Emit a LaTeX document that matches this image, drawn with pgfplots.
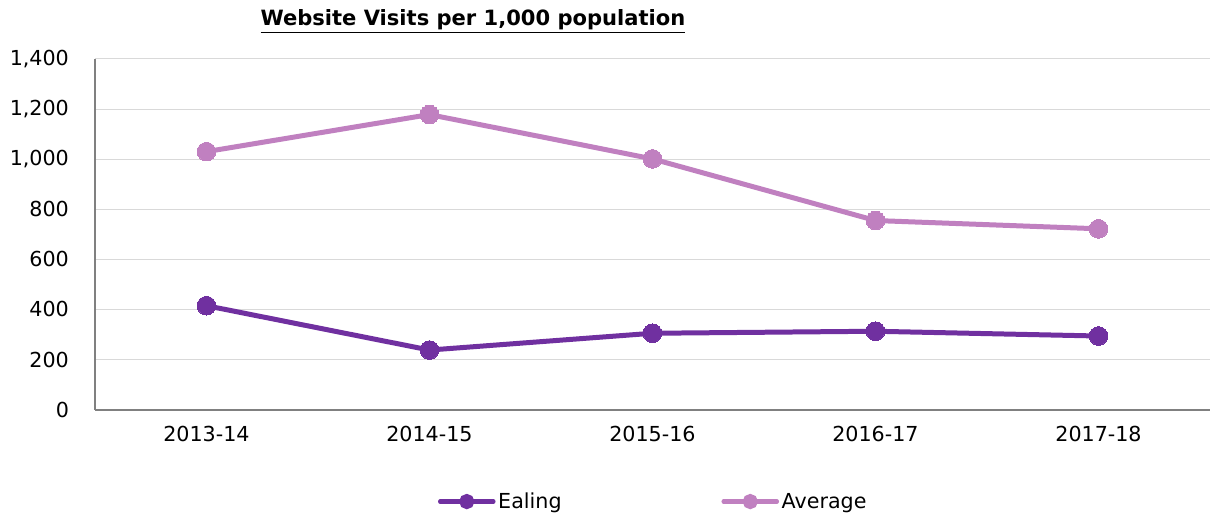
\documentclass[border=0pt]{standalone}
\usepackage{fontspec}
\setmainfont{DejaVu Sans}
\usepackage{pgfplots}
\pgfplotsset{compat=1.18}
\definecolor{ealing}{RGB}{112,48,160}
\definecolor{avg}{RGB}{192,128,192}
\definecolor{gridgray}{RGB}{217,217,217}
\definecolor{axisgray}{RGB}{128,128,128}
\begin{document}
\begin{tikzpicture}
  \begin{axis}[
    name=ax, at={(0pt,0pt)}, anchor=south west,
    scale only axis, width=837pt, height=263.25pt,
    xmin=-0.5, xmax=4.5, ymin=0, ymax=1400,
    xtick={0,1,2,3,4},
    xticklabels={2013-14,2014-15,2015-16,2016-17,2017-18},
    ytick={0,200,...,1400},
    /pgf/number format/assume math mode=true,
    /pgf/number format/1000 sep={,},
    font=\fontsize{15.5}{18}\selectfont,
    tick label style={font=\fontsize{15.5}{18}\selectfont, text=black},
    major tick length=0pt,
    xticklabel style={yshift=-9pt},
    yticklabel style={xshift=-16pt},
    axis x line*=bottom, axis y line*=left,
    axis line style={axisgray, line width=1.5pt, -},
    ymajorgrids, grid style={gridgray, line width=0.75pt},
    title={\underline{\textbf{Website Visits per 1,000 population}}},
    title style={at={(0.339,1.085)}, anchor=center, font=\fontsize{15.8}{18}\selectfont},
    legend style={at={(0.501,-0.262)}, anchor=center, legend columns=2,
      draw=none, fill=none, font=\fontsize{15.5}{18}\selectfont,
      inner xsep=1pt,
      /tikz/every even column/.append style={column sep=118pt}},
    legend image code/.code={
      \draw[#1, line width=3.2pt, line cap=round] (0pt,0pt) -- (40pt,0pt);
      \fill[#1] (20pt,0pt) circle (3.8pt);
    },
  ]
    \addplot[ealing, line width=3.75pt, mark=*, mark size=7pt,
      mark options={solid, fill=ealing, draw=ealing, line width=0pt}]
      coordinates {(0,415) (1,238) (2,305) (3,313) (4,294)};
    \addlegendentry{Ealing}
    \addplot[avg, line width=3.75pt, mark=*, mark size=7pt,
      mark options={solid, fill=avg, draw=avg, line width=0pt}]
      coordinates {(0,1030) (1,1178) (2,1001) (3,755) (4,722)};
    \addlegendentry{Average}
  \end{axis}
  \path (-71.25pt,-81pt) rectangle (837pt,307.5pt);
\end{tikzpicture}
\end{document}
